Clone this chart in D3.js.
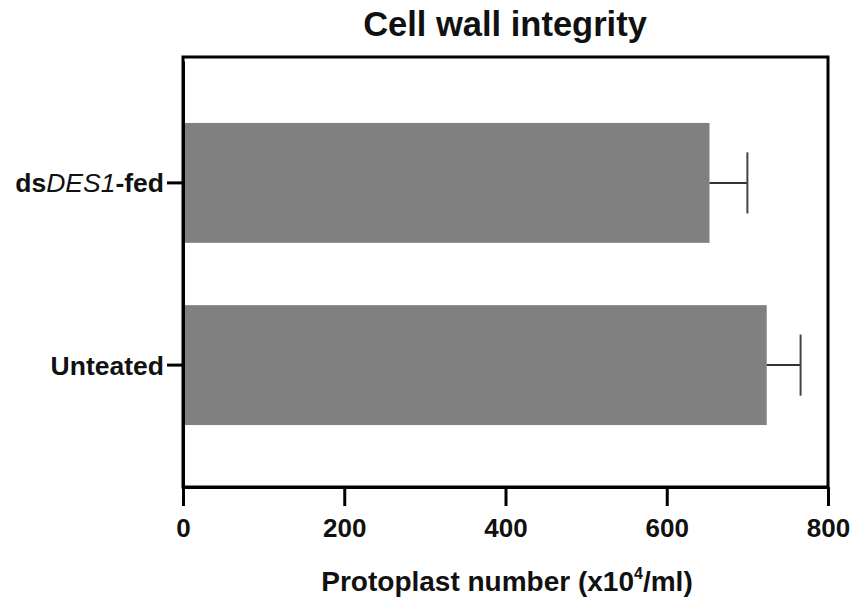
<!DOCTYPE html>
<html>
<head>
<meta charset="utf-8">
<script src="https://cdn.jsdelivr.net/npm/d3@7"></script>
<style>
  html, body { margin: 0; padding: 0; background: #fff; }
  svg { display: block; }
  text { font-family: "Liberation Sans", Arial, Helvetica, sans-serif; font-weight: bold; fill: #111; }
</style>
</head>
<body>
<svg id="chart" width="857" height="604"></svg>
<script>
// ---- data ----
const categories = ["dsDES1-fed", "Unteated"];
const means = [653, 724];
const errors = [47, 42];
const xTicks = [0, 200, 400, 600, 800];
const italicPart = "DES1";
const titleText = "Cell wall integrity";

// ---- layout ----
const W = 857, H = 604;
const mLeft = 183, mRight = 828, mTop = 57, mBottom = 487;

const svg = d3.select("#chart");

const x = d3.scaleLinear().domain([0, 800]).range([mLeft, mRight]);
const y = d3.scaleBand().domain(categories).range([mTop + 4, mBottom]).paddingInner(0.342).paddingOuter(0.34);

const data = categories.map((c, i) => ({ cat: c, mean: means[i], err: errors[i] }));

// bars
svg.selectAll("rect.bar").data(data).enter().append("rect")
  .attr("class", "bar")
  .attr("x", x(0))
  .attr("y", d => y(d.cat))
  .attr("width", d => x(d.mean) - x(0))
  .attr("height", y.bandwidth())
  .attr("fill", "#808080");

// error bars (positive side only)
const eg = svg.selectAll("g.err").data(data).enter().append("g").attr("class", "err");
eg.append("line")
  .attr("x1", d => x(d.mean)).attr("x2", d => x(d.mean + d.err))
  .attr("y1", d => y(d.cat) + y.bandwidth() / 2).attr("y2", d => y(d.cat) + y.bandwidth() / 2)
  .attr("stroke", "#333").attr("stroke-width", 2);
eg.append("line")
  .attr("x1", d => x(d.mean + d.err)).attr("x2", d => x(d.mean + d.err))
  .attr("y1", d => y(d.cat) + y.bandwidth() / 2 - y.bandwidth() * 0.255)
  .attr("y2", d => y(d.cat) + y.bandwidth() / 2 + y.bandwidth() * 0.255)
  .attr("stroke", "#444").attr("stroke-width", 2);

// frame
svg.append("rect")
  .attr("x", mLeft).attr("y", mTop)
  .attr("width", mRight - mLeft).attr("height", mBottom - mTop)
  .attr("fill", "none").attr("stroke", "#000").attr("stroke-width", 3);

// x axis
const xAxis = d3.axisBottom(x).tickValues(xTicks).tickSize(19).tickSizeOuter(0).tickPadding(13).tickFormat(d3.format("d"));
const gx = svg.append("g").attr("transform", `translate(0,${mBottom})`).call(xAxis);
gx.select(".domain").attr("stroke", "#000").attr("stroke-width", 3);
gx.selectAll(".tick line").attr("stroke", "#000").attr("stroke-width", 3);
gx.selectAll(".tick text")
  .attr("font-size", 26).attr("font-family", "Liberation Sans, Arial, sans-serif")
  .attr("font-weight", "bold").attr("fill", "#111").attr("dy", "0.71em");

// y axis
const yAxis = d3.axisLeft(y).tickSize(16).tickSizeOuter(0).tickPadding(4).tickFormat("");
const gy = svg.append("g").attr("transform", `translate(${mLeft},0)`).call(yAxis);
gy.select(".domain").attr("stroke", "#000").attr("stroke-width", 3);
gy.selectAll(".tick line").attr("stroke", "#000").attr("stroke-width", 3);

// category labels with italic gene name
gy.selectAll(".tick").each(function(d) {
  const t = d3.select(this).append("text")
    .attr("x", -19).attr("dy", "0.36em")
    .attr("text-anchor", "end")
    .attr("font-size", 26.5);
  const idx = d.indexOf(italicPart);
  if (idx >= 0) {
    t.append("tspan").text(d.slice(0, idx));
    t.append("tspan").attr("font-style", "italic").attr("font-weight", "normal").text(italicPart);
    t.append("tspan").text(d.slice(idx + italicPart.length));
  } else {
    t.text(d);
  }
});

// title
svg.append("text")
  .attr("x", 505).attr("y", 36)
  .attr("text-anchor", "middle")
  .attr("font-size", 34.5)
  .text(titleText);

// axis title
const at = svg.append("text")
  .attr("x", 507).attr("y", 591)
  .attr("text-anchor", "middle")
  .attr("font-size", 28);
at.append("tspan").text("Protoplast number (x10");
at.append("tspan").attr("font-size", 16).attr("dy", -12).text("4");
at.append("tspan").attr("dy", 12).text("/ml)");
</script>
</body>
</html>
